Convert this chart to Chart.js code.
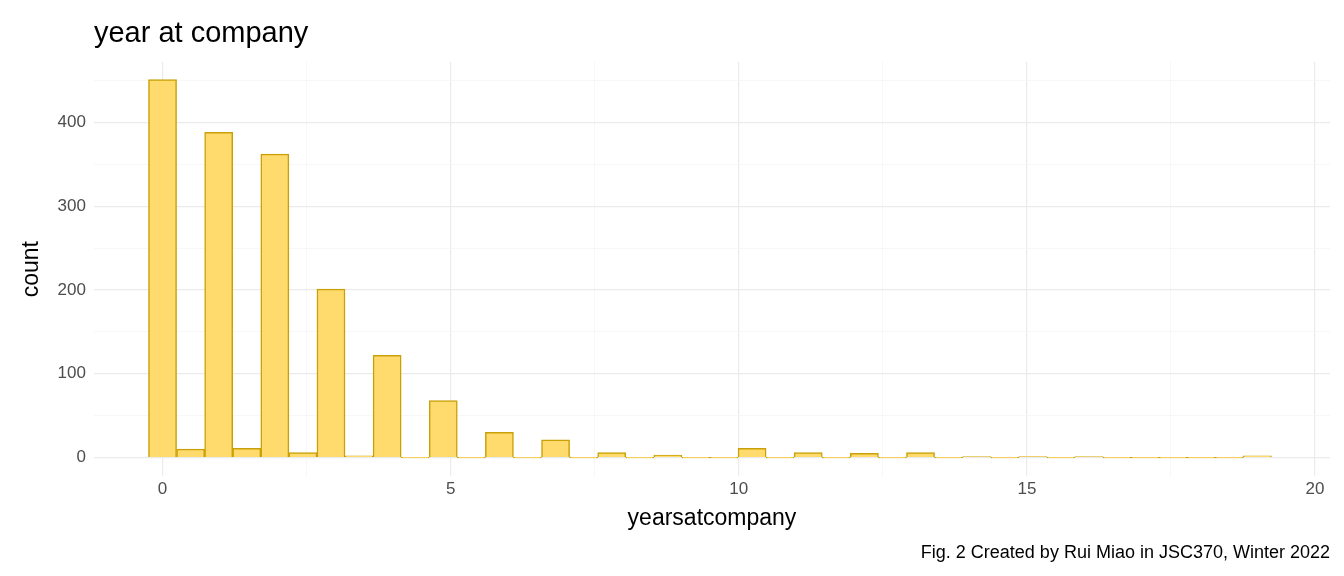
<!DOCTYPE html>
<html lang="en">
<head>
    <meta charset="UTF-8">
    <title>year at company</title>
    <script src="https://cdn.jsdelivr.net/npm/chart.js"></script>
    <style>
        body { margin: 0; padding: 0; background: white; }
        .chart-container { width: 1344px; height: 576px; }
    </style>
</head>
<body>
    <div class="chart-container"><canvas id="histChart"></canvas></div>
    <script>
        // 40 bins over 0..19, binwidth 19/39
        const binWidth = 19 / 39;
        const counts = [451, 10, 388, 11, 362, 6, 201, 2, 122, 0,
                        68, 0, 30, 0, 21, 0, 6, 0, 3, 0,
                        0, 11, 0, 6, 0, 5, 0, 6, 0, 1,
                        0, 1, 0, 1, 0, 0, 0, 0, 0, 2];
        const xTicks = [0, 2.5, 5, 7.5, 10, 12.5, 15, 17.5, 20];
        const yTicks = [0, 50, 100, 150, 200, 250, 300, 350, 400, 450];
        const chartTitle = 'year at company';

        const points = counts.map((c, i) => ({ x: i * binWidth, y: c }));
        const font = 'Arial, "Liberation Sans", sans-serif';

        // title drawn aligned with the panel's left edge, like ggplot
        const panelTitle = {
            id: 'panelTitle',
            afterDraw(chart) {
                const c = chart.ctx;
                c.save();
                c.fillStyle = '#000';
                c.font = '29px ' + font;
                c.textBaseline = 'alphabetic';
                c.fillText(chartTitle, chart.chartArea.left, 42);
                c.restore();
            }
        };

        new Chart(document.getElementById('histChart'), {
            type: 'bar',
            data: {
                datasets: [{
                    data: points,
                    backgroundColor: '#FFDB6E',
                    borderColor: '#C9A008',
                    borderWidth: 1.5,
                    barPercentage: 1,
                    categoryPercentage: 1,
                    minBarLength: 1
                }]
            },
            options: {
                responsive: true,
                maintainAspectRatio: false,
                animation: false,
                layout: { padding: { left: 14, right: 14, top: 62, bottom: 12 } },
                plugins: {
                    legend: { display: false },
                    tooltip: { enabled: false },
                    subtitle: {
                        display: true, position: 'bottom', align: 'end',
                        text: 'Fig. 2 Created by Rui Miao in JSC370, Winter 2022',
                        color: '#000', font: { family: font, size: 18 },
                        padding: { top: 6, bottom: 0 }
                    }
                },
                scales: {
                    x: {
                        type: 'linear', min: -1.19, max: 20.26, offset: false,
                        afterBuildTicks: s => { s.ticks = xTicks.map(v => ({ value: v })); },
                        ticks: {
                            color: '#4D4D4D', font: { family: font, size: 17 },
                            callback: v => (v % 5 === 0 ? v : '')
                        },
                        grid: {
                            offset: false,
                            color: ctx => (ctx.tick && ctx.tick.value % 5 === 0 ? '#EBEBEB' : '#F5F5F5'),
                            lineWidth: ctx => (ctx.tick && ctx.tick.value % 5 === 0 ? 1.2 : 0.8),
                            drawTicks: false
                        },
                        border: { display: false },
                        title: { display: true, text: 'yearsatcompany', color: '#000', font: { family: font, size: 23 }, padding: { top: 2 } }
                    },
                    y: {
                        min: -22.5, max: 472,
                        afterBuildTicks: s => { s.ticks = yTicks.map(v => ({ value: v })); },
                        ticks: {
                            color: '#4D4D4D', font: { family: font, size: 17 }, padding: 8,
                            callback: v => (v % 100 === 0 ? v : '')
                        },
                        grid: {
                            color: ctx => (ctx.tick && ctx.tick.value % 100 === 0 ? '#EBEBEB' : '#F5F5F5'),
                            lineWidth: ctx => (ctx.tick && ctx.tick.value % 100 === 0 ? 1.2 : 0.8),
                            drawTicks: false
                        },
                        border: { display: false },
                        title: { display: true, text: 'count', color: '#000', font: { family: font, size: 23 } }
                    }
                }
            },
            plugins: [panelTitle]
        });
    </script>
</body>
</html>
